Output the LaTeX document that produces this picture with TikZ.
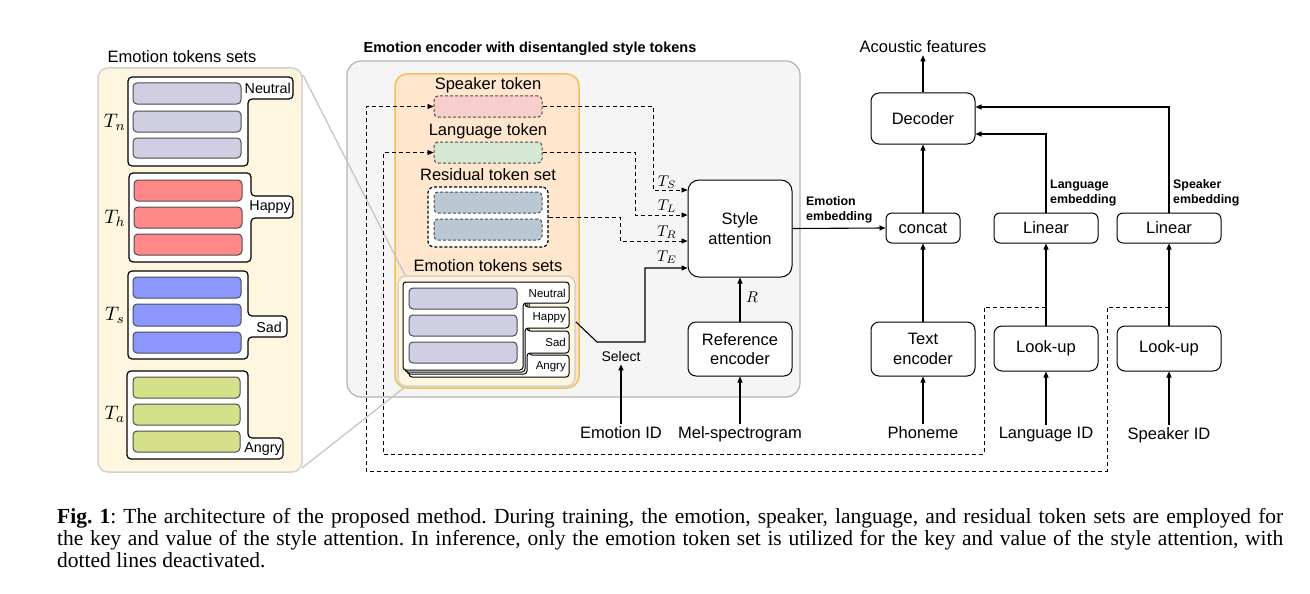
\RequirePackage{fix-cm}
\documentclass[tikz,border=0pt]{standalone}
\usepackage{fontspec}
\setmainfont{Liberation Sans}
\newfontfamily\capfont{Liberation Serif}
\usetikzlibrary{arrows.meta,calc}
\definecolor{panelY}{HTML}{FEF6DF}
\definecolor{grayP}{HTML}{F5F5F5}
\definecolor{grayB}{HTML}{B3B3B3}
\definecolor{orP}{HTML}{FFE6CC}
\definecolor{orB}{HTML}{EFC15A}
\definecolor{cN}{HTML}{D0CEE2}
\definecolor{cH}{HTML}{FF8888}
\definecolor{cS}{HTML}{8C96FF}
\definecolor{cA}{HTML}{D5E08A}
\definecolor{cSpk}{HTML}{F8CECC}
\definecolor{cLan}{HTML}{D5E8D4}
\definecolor{cRes}{HTML}{BAC8D3}
\definecolor{barline}{HTML}{4D4D4D}
\newcommand\fA{\fontsize{16.5}{19.5}\selectfont}
\newcommand\fB{\fontsize{14.3}{16}\selectfont}
\newcommand\fC{\fontsize{11.5}{13}\selectfont}
\newcommand\fD{\fontsize{12.4}{15}\selectfont\bfseries}
\newcommand\fT{\fontsize{14.5}{17}\selectfont\bfseries}
\newcommand\bigT[1]{\scalebox{1.95}{$#1$}}
\newcommand\midT[1]{\scalebox{1.55}{$#1$}}
\newcommand\capf{\capfont\fontsize{21.5}{22}\selectfont\frenchspacing}
\tikzset{
 blk/.style={draw, rounded corners=8pt, fill=white, line width=1pt, align=center, inner sep=0pt, font=\fA},
 arr/.style={line width=1.1pt, -{Triangle[length=6pt,width=5pt]}},
 darr/.style={line width=0.9pt, dash pattern=on 4pt off 3pt, -{Triangle[length=6pt,width=5pt]}},
 bar/.style={draw=barline, line width=1pt, rounded corners=4pt},
 tok/.style={draw=barline, line width=1pt, rounded corners=4pt, dash pattern=on 3pt off 2pt, minimum width=108pt, minimum height=21pt, inner sep=0pt},
 txt/.style={inner sep=2pt, font=\fA, align=center},
 grpst/.style={draw, fill=white, line width=1.2pt, rounded corners=4pt},
 stk/.style={draw, fill=white, line width=1pt, rounded corners=3pt},
 zoomln/.style={draw=gray!45, line width=1.3pt},
 mlab/.style={inner sep=0pt},
}
\begin{document}
\begin{tikzpicture}[x=1pt,y=-1pt]
\useasboundingbox (0,0) rectangle (1310,594);

% ---------- left panel ----------
\draw[fill=panelY, draw=gray!35, line width=1.5pt, rounded corners=10pt] (98,68) rectangle (302,472);
\node[txt] (lefttitle) at (182,57) {Emotion tokens sets};

\draw[grpst] (128,77) -- (293,77) -- (293,99) -- (248,99) -- (248,166) -- (128,166) -- cycle;
\draw[bar, fill=cN] (133,83) rectangle (241,104);
\draw[bar, fill=cN] (133,111) rectangle (241,132);
\draw[bar, fill=cN] (133,138) rectangle (241,158);
\node[font=\fB, anchor=east, inner sep=1pt] (lN) at (292,88) {Neutral};

\draw[grpst] (129,173) -- (251,173) -- (251,196) -- (293,196) -- (293,218) -- (251,218) -- (251,262) -- (129,262) -- cycle;
\draw[bar, fill=cH] (134,180) rectangle (242,201);
\draw[bar, fill=cH] (134,207) rectangle (242,228);
\draw[bar, fill=cH] (134,234) rectangle (242,255);
\node[font=\fB, anchor=east, inner sep=1pt] (lH) at (292,207) {Happy};

\draw[grpst] (128,271) -- (248,271) -- (248,316) -- (287,316) -- (287,337) -- (248,337) -- (248,359) -- (128,359) -- cycle;
\draw[bar, fill=cS] (133,277) rectangle (241,298);
\draw[bar, fill=cS] (133,304) rectangle (241,326);
\draw[bar, fill=cS] (133,332) rectangle (241,353);
\node[font=\fB, anchor=east, inner sep=1pt] (lS) at (283,327) {Sad};

\draw[grpst] (127,371) -- (248,371) -- (248,438) -- (283,438) -- (283,459) -- (127,459) -- cycle;
\draw[bar, fill=cA] (133,377) rectangle (240,398);
\draw[bar, fill=cA] (133,404) rectangle (240,425);
\draw[bar, fill=cA] (133,431) rectangle (240,452);
\node[font=\fB, anchor=east, inner sep=1pt] (lA) at (283,449) {Angry};

\node[mlab] (tn) at (115,122) {\bigT{T_n}};
\node[mlab] (th) at (115,218) {\bigT{T_h}};
\node[mlab] (ts) at (115,315) {\bigT{T_s}};
\node[mlab] (ta) at (115,414) {\bigT{T_a}};

% ---------- middle panel ----------
\node[font=\fT, inner sep=0pt] (midtitle) at (530,49) {Emotion encoder with disentangled style tokens};
\draw[fill=grayP, draw=grayB, line width=1.2pt, rounded corners=14pt] (347,61) rectangle (800,397);
\draw[fill=orP, draw=orB, line width=1.5pt, rounded corners=12pt] (395,74) rectangle (579,388);

\node[txt] (spktxt) at (488,85) {Speaker token};
\node[tok, fill=cSpk] (spk) at (488,106.5) {};
\node[txt] (lantxt) at (488,131) {Language token};
\node[tok, fill=cLan] (lan) at (488,152.5) {};
\node[txt] (restxt) at (488,175) {Residual token set};
\node[draw, fill=white, line width=1.2pt, dash pattern=on 3pt off 2pt, rounded corners=6pt, minimum width=120pt, minimum height=60pt, inner sep=0pt] (res) at (488,217) {};
\node[tok, fill=cRes] at (488,202.5) {};
\node[tok, fill=cRes] at (488,229.5) {};
\node[txt] (emotxt) at (488,266) {Emotion tokens sets};

\draw[fill=panelY, draw=gray!35, line width=1.5pt, rounded corners=8pt] (398,276) rectangle (575,386);
\draw[stk] (409,288) -- (529,288) -- (529,355) -- (569,355) -- (569,377) -- (409,377) -- cycle;
\draw[stk] (407,286) -- (527,286) -- (527,331) -- (569,331) -- (569,353) -- (527,353) -- (527,374) -- (407,374) -- cycle;
\draw[stk] (405,284) -- (525,284) -- (525,307) -- (569,307) -- (569,328) -- (525,328) -- (525,372) -- (405,372) -- cycle;
\draw[stk] (403,282) -- (569,282) -- (569,303) -- (523,303) -- (523,370) -- (403,370) -- cycle;
\draw[bar, fill=cN] (409,288) rectangle (517,309);
\draw[bar, fill=cN] (409,315) rectangle (517,336);
\draw[bar, fill=cN] (409,342) rectangle (517,363);
\node[font=\fC, anchor=east, inner sep=1pt] (sN) at (567,293) {Neutral};
\node[font=\fC, anchor=east, inner sep=1pt] (sH) at (567,318) {Happy};
\node[font=\fC, anchor=east, inner sep=1pt] (sS) at (567,342) {Sad};
\node[font=\fC, anchor=east, inner sep=1pt] (sA) at (567,367) {Angry};

% zoom lines
\coordinate (zA) at (303,75);
\coordinate (zB) at (405,275);
\coordinate (zC) at (302,468);
\coordinate (zD) at (405,387);
\draw[zoomln] (zA) -- (zB);
\draw[zoomln] (zC) -- (zD);

% style attention etc.
\node[blk, rounded corners=11pt, minimum width=104pt, minimum height=97pt] (style) at (740,228.5) {Style\\attention};
\node[blk, minimum width=104pt, minimum height=54pt] (refenc) at (740,349) {Reference\\encoder};
\node[txt, inner sep=3pt] (select) at (621,356) {\fontsize{14}{16}\selectfont Select};
\node[txt, anchor=north] (emoid) at (621,424) {Emotion ID};
\node[txt, anchor=north] (mel) at (740,424) {Mel-spectrogram};
\node[mlab] (Rlab) at (752,297) {\midT{R}};
\node[mlab] (TS) at (667,182) {\midT{T_S}};
\node[mlab] (TL) at (667,206) {\midT{T_L}};
\node[mlab] (TR) at (667,232) {\midT{T_R}};
\node[mlab] (TE) at (667,257) {\midT{T_E}};

\coordinate (selA) at (576,322);
\draw[arr] (selA) -- (597,342) -- (645,342) |- ([yshift=-39.5pt]style.west);
\draw[arr] (emoid.north) -- (select.south);
\draw[arr] (mel.north) -- (refenc.south);
\draw[arr] (refenc.north) -- (style.south);

\draw[darr] (spk.east) -| (653,190) -- ([yshift=38.5pt]style.west);
\draw[darr] (lan.east) -| (635,215) -- ([yshift=13.5pt]style.west);
\draw[darr] (res.east) -| (620,241) -- ([yshift=-12.5pt]style.west);

% ---------- right side ----------
\node[txt] (acoustic) at (923,47) {Acoustic features};
\node[blk, minimum width=104pt, minimum height=51pt] (decoder) at (923,118.5) {Decoder};
\node[blk, rounded corners=6pt, minimum width=74pt, minimum height=30pt] (concat) at (923,228) {concat};
\node[blk, rounded corners=6pt, minimum width=104pt, minimum height=30pt] (linL) at (1046,228) {Linear};
\node[blk, rounded corners=6pt, minimum width=104pt, minimum height=30pt] (linS) at (1169,228) {Linear};
\node[blk, minimum width=104pt, minimum height=54pt] (textenc) at (923,349) {Text\\encoder};
\node[blk, minimum width=104pt, minimum height=45pt] (lookL) at (1046,348.5) {Look-up};
\node[blk, minimum width=104pt, minimum height=45pt] (lookS) at (1169,348.5) {Look-up};
\node[txt, anchor=north] (phon) at (923,424) {Phoneme};
\node[txt, anchor=north] (langid) at (1046,425) {Language ID};
\node[txt, anchor=north] (spkid) at (1169,425) {Speaker ID};

\node[font=\fD, align=left, anchor=west, inner sep=0pt] (emolab) at (806,210) {Emotion\\embedding};
\node[font=\fD, align=left, anchor=west, inner sep=0pt] (lanlab) at (1050,193) {Language\\embedding};
\node[font=\fD, align=left, anchor=west, inner sep=0pt] (spklab) at (1173,193) {Speaker\\embedding};

\draw[arr] (style.east) -- (concat.west);
\draw[arr] (concat.north) -- (decoder.south);
\draw[arr] (textenc.north) -- (concat.south);
\draw[arr] (decoder.north) -- (acoustic.south);
\draw[arr] (linL.north) |- ([yshift=-15.5pt]decoder.east);
\draw[arr] (linS.north) |- ([yshift=11.5pt]decoder.east);
\draw[arr] (lookL.north) -- (linL.south);
\draw[arr] (lookS.north) -- (linS.south);
\draw[arr] (phon.north) -- (textenc.south);
\draw[arr] (langid.north) -- (lookL.south);
\draw[arr] (spkid.north) -- (lookS.south);

\coordinate (joinL) at (1046,307);
\coordinate (joinS) at (1169,307);
\draw[darr] (joinS) -- (1107,307) -- (1107,471) -- (366,471) |- (spk.west);
\draw[darr] (joinL) -- (984,307) -- (984,454) -- (383,454) |- (lan.west);

% ---------- caption ----------
\node[anchor=base west, inner sep=0pt] (cap1) at (57,523) {\capf\hbox to 1226pt{\textbf{Fig. 1}: The architecture of the proposed method. During training, the emotion, speaker, language, and residual token sets are employed for}};
\node[anchor=base west, inner sep=0pt] (cap2) at (57,545) {\capf\hbox to 1226pt{the key and value of the style attention. In inference, only the emotion token set is utilized for the key and value of the style attention, with}};
\node[anchor=base west, inner sep=0pt] (cap3) at (57,567) {\capf dotted lines deactivated.};
\end{tikzpicture}
\end{document}
